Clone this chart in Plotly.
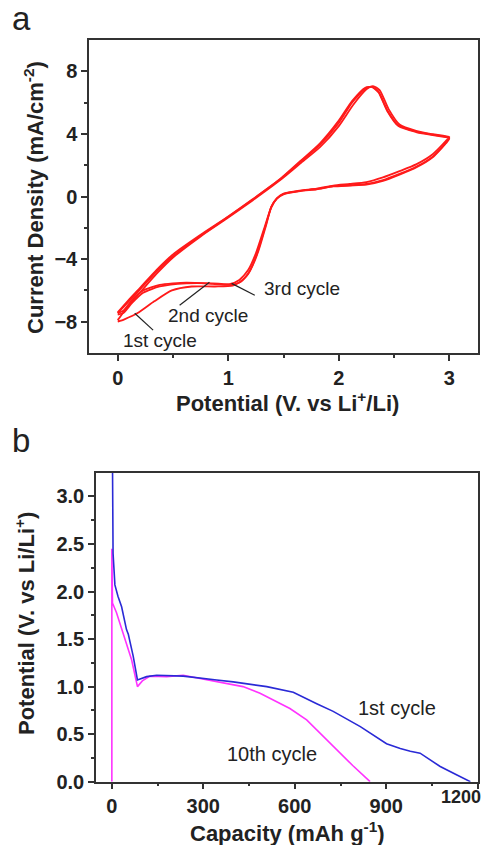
import plotly.graph_objects as go

# ---------------- Panel a: cyclic voltammetry (3 cycles) ----------------
cv1_potential = [0.00, 0.10, 0.20, 0.35, 0.50, 0.75, 1.00, 1.22, 1.47, 1.65, 1.83, 2.00, 2.13, 2.25, 2.31, 2.37, 2.45, 2.55, 2.70, 2.85, 3.00,
                 2.97, 2.85, 2.70, 2.55, 2.40, 2.25, 2.10, 1.95, 1.80, 1.65, 1.50, 1.44, 1.39, 1.34, 1.27, 1.20, 1.13, 1.04, 0.88, 0.67, 0.49, 0.33, 0.18, 0.06, 0.00]
cv1_current = [-7.90, -6.95, -6.15, -4.95, -3.90, -2.55, -1.35, -0.25, 1.05, 2.10, 3.15, 4.50, 5.85, 6.85, 7.05, 6.80, 5.60, 4.60, 4.20, 3.98, 3.80,
               3.55, 2.70, 2.05, 1.62, 1.22, 0.92, 0.80, 0.70, 0.50, 0.38, 0.18, -0.12, -0.65, -1.90, -3.55, -4.70, -5.35, -5.70, -5.75, -5.75, -6.00, -6.70, -7.45, -7.85, -8.00]

cv2_potential = [0.00, 0.10, 0.20, 0.35, 0.50, 0.75, 1.00, 1.22, 1.47, 1.65, 1.83, 2.00, 2.12, 2.24, 2.30, 2.36, 2.44, 2.54, 2.70, 2.85, 3.00,
                 2.97, 2.85, 2.70, 2.55, 2.40, 2.25, 2.10, 1.95, 1.80, 1.65, 1.50, 1.44, 1.39, 1.33, 1.25, 1.18, 1.10, 1.01, 0.86, 0.62, 0.38, 0.23, 0.13, 0.05, 0.00]
cv2_current = [-7.45, -6.70, -5.95, -4.80, -3.80, -2.50, -1.30, -0.20, 1.10, 2.20, 3.30, 4.70, 6.00, 6.90, 7.00, 6.70, 5.50, 4.55, 4.15, 3.95, 3.75,
               3.45, 2.55, 1.90, 1.45, 1.05, 0.80, 0.72, 0.66, 0.48, 0.36, 0.16, -0.12, -0.66, -1.93, -3.63, -4.70, -5.33, -5.60, -5.55, -5.55, -5.75, -6.15, -6.80, -7.45, -7.55]

cv3_potential = [0.00, 0.10, 0.20, 0.35, 0.50, 0.75, 1.00, 1.22, 1.47, 1.65, 1.83, 2.00, 2.12, 2.24, 2.30, 2.36, 2.44, 2.54, 2.70, 2.85, 3.00,
                 2.97, 2.85, 2.70, 2.55, 2.40, 2.25, 2.10, 1.95, 1.80, 1.65, 1.50, 1.44, 1.39, 1.33, 1.25, 1.18, 1.10, 1.01, 0.86, 0.62, 0.38, 0.23, 0.13, 0.05, 0.00]
cv3_current = [-7.40, -6.60, -5.85, -4.70, -3.70, -2.45, -1.28, -0.18, 1.12, 2.25, 3.40, 4.85, 6.10, 6.95, 7.00, 6.65, 5.45, 4.50, 4.12, 3.92, 3.72,
               3.40, 2.50, 1.85, 1.40, 1.00, 0.76, 0.70, 0.64, 0.46, 0.34, 0.14, -0.14, -0.70, -2.05, -3.85, -4.95, -5.50, -5.65, -5.58, -5.50, -5.65, -6.00, -6.60, -7.30, -7.45]

cv_labels = ["1st cycle", "2nd cycle", "3rd cycle"]

# ---------------- Panel b: discharge curves ----------------
c1_capacity = [2, 4, 10, 20, 32, 48, 54, 70, 84, 114, 147, 234, 344, 398, 508, 595, 672, 726, 815, 858, 901, 946, 979, 1011, 1077, 1132, 1176]
c1_potential = [3.40, 2.40, 2.07, 1.95, 1.84, 1.60, 1.55, 1.32, 1.07, 1.105, 1.12, 1.11, 1.07, 1.05, 1.00, 0.94, 0.82, 0.74, 0.58, 0.49, 0.40, 0.35, 0.32, 0.30, 0.16, 0.07, 0.00]

c10_capacity = [0, 0, 2, 15, 37, 65, 84, 100, 125, 180, 234, 354, 430, 486, 584, 639, 727, 790, 847]
c10_potential = [0.00, 2.45, 1.88, 1.78, 1.56, 1.28, 1.00, 1.06, 1.11, 1.105, 1.12, 1.05, 1.00, 0.93, 0.77, 0.65, 0.37, 0.17, 0.00]

cap_ticks = [0, 300, 600, 900, 1200]
cap_ticktext = ["0", "300", "600", "900", ""]   # last label drawn separately (squeezed at the edge, as in the original)
last_cap_label = "1200"

red = "#ff1a1a"
blue = "#2a2ad6"
magenta = "#ff33ff"
axis_col = "#333333"
txt_col = "#222222"

# The page body has an 8px default margin; figure is sized so it fits the 492x853 window exactly.
OFF = 8
W = 492 - 2 * OFF
H = 853 - 2 * OFF


def fx(p):
    return (p - OFF) / W


def fy(p):
    return 1 - (p - OFF) / H


fig = go.Figure()
for E, I, name in [(cv1_potential, cv1_current, cv_labels[0]),
                   (cv2_potential, cv2_current, cv_labels[1]),
                   (cv3_potential, cv3_current, cv_labels[2])]:
    fig.add_trace(go.Scatter(x=E, y=I, mode="lines", name=name, line=dict(color=red, width=1.8, shape="spline", smoothing=0.6),
                             xaxis="x", yaxis="y", showlegend=False))

fig.add_trace(go.Scatter(x=c10_capacity, y=c10_potential, mode="lines", name="10th cycle",
                         line=dict(color=magenta, width=1.6), xaxis="x2", yaxis="y2", showlegend=False))
fig.add_trace(go.Scatter(x=c1_capacity, y=c1_potential, mode="lines", name="1st cycle",
                         line=dict(color=blue, width=1.6), xaxis="x2", yaxis="y2", showlegend=False))

FONT = "Liberation Sans, Arial, sans-serif"
tick_font = dict(family=FONT, size=20, color=txt_col, weight="bold")
common = dict(showline=True, mirror=True, linecolor=axis_col, linewidth=1.5, ticks="outside", ticklen=6, tickwidth=1.5,
              tickcolor=axis_col, showgrid=False, zeroline=False, tickfont=tick_font, automargin=False,
              ticklabeloverflow="allow")

fig.update_layout(
    width=W, height=H, margin=dict(l=0, r=0, t=0, b=0, autoexpand=False),
    paper_bgcolor="white", plot_bgcolor="white",
    xaxis=dict(domain=[fx(89), fx(478)], range=[-0.26, 3.26], tickvals=[0, 1, 2, 3],
               minor=dict(tickvals=[0.5, 1.5, 2.5], ticklen=3, tickcolor=axis_col, ticks="outside"), anchor="y", **common),
    yaxis=dict(domain=[fy(353), fy(40)], range=[-10, 10], tickvals=[-8, -4, 0, 4, 8],
               minor=dict(tickvals=[-6, -2, 2, 6], ticklen=3, tickcolor=axis_col, ticks="outside"), anchor="x", **common),
    xaxis2=dict(domain=[fx(96), fx(478)], range=[-52, 1201], tickvals=cap_ticks, ticktext=cap_ticktext,
                minor=dict(tickvals=[150, 450, 750, 1050], ticklen=3, tickcolor=axis_col, ticks="outside"), anchor="y2", **common),
    yaxis2=dict(domain=[fy(781.7), fy(472.7)], range=[0, 3.25], tickvals=[0, 0.5, 1.0, 1.5, 2.0, 2.5, 3.0], tickformat=".1f",
                minor=dict(tickvals=[0.25, 0.75, 1.25, 1.75, 2.25, 2.75], ticklen=3, tickcolor=axis_col, ticks="outside"), anchor="x2", **common),
)

title_font = dict(family=FONT, size=22, color=txt_col, weight="bold")
ann_font = dict(family=FONT, size=19, color=txt_col)
anns = [
    # panel letters
    dict(text="a", x=fx(10), y=fy(18), xanchor="left", yanchor="middle", font=dict(family=FONT, size=33, color=txt_col)),
    dict(text="b", x=fx(10), y=fy(440), xanchor="left", yanchor="middle", font=dict(family=FONT, size=33, color=txt_col)),
    # axis titles
    dict(text="Potential (V. vs Li<sup>+</sup>/Li)", x=fx(287), y=fy(402), xanchor="center", yanchor="middle", font=title_font),
    dict(text="Current Density (mA/cm<sup>-2</sup>)", x=fx(34), y=fy(198), xanchor="center", yanchor="middle", textangle=-90, font=title_font),
    dict(text="Capacity (mAh g<sup>-1</sup>)", x=fx(287), y=fy(832), xanchor="center", yanchor="middle", font=title_font),
    dict(text="Potential (V. vs Li/Li<sup>+</sup>)", x=fx(25), y=fy(624), xanchor="center", yanchor="middle", textangle=-90, font=title_font),
    # last capacity tick label, squeezed inside the right edge as in the original
    dict(text=last_cap_label, x=fx(483), y=fy(797), xanchor="right", yanchor="middle",
         font=dict(family=FONT, size=18, color=txt_col, weight="bold")),
]
for a in anns:
    a.update(xref="paper", yref="paper", showarrow=False)
    fig.add_annotation(**a)

# cycle labels panel a
fig.add_annotation(text="3rd cycle", x=1.665, y=-5.86, xref="x", yref="y", showarrow=False, font=ann_font)
fig.add_annotation(text="2nd cycle", x=0.82, y=-7.58, xref="x", yref="y", showarrow=False, font=ann_font)
fig.add_annotation(text="1st cycle", x=0.38, y=-9.18, xref="x", yref="y", showarrow=False, font=ann_font)
for (x0, y0, x1, y1) in [(1.24, -6.31, 1.03, -5.55), (0.56, -6.95, 0.83, -5.48), (0.32, -8.54, 0.154, -7.46)]:
    fig.add_shape(type="line", x0=x0, y0=y0, x1=x1, y1=y1, xref="x", yref="y", line=dict(color=txt_col, width=1.2))

# cycle labels panel b
fig.add_annotation(text="1st cycle", x=936, y=0.78, xref="x2", yref="y2", showarrow=False, font=dict(family=FONT, size=20, color=txt_col))
fig.add_annotation(text="10th cycle", x=525, y=0.29, xref="x2", yref="y2", showarrow=False, font=dict(family=FONT, size=20, color=txt_col))

fig.write_html("out.html")
